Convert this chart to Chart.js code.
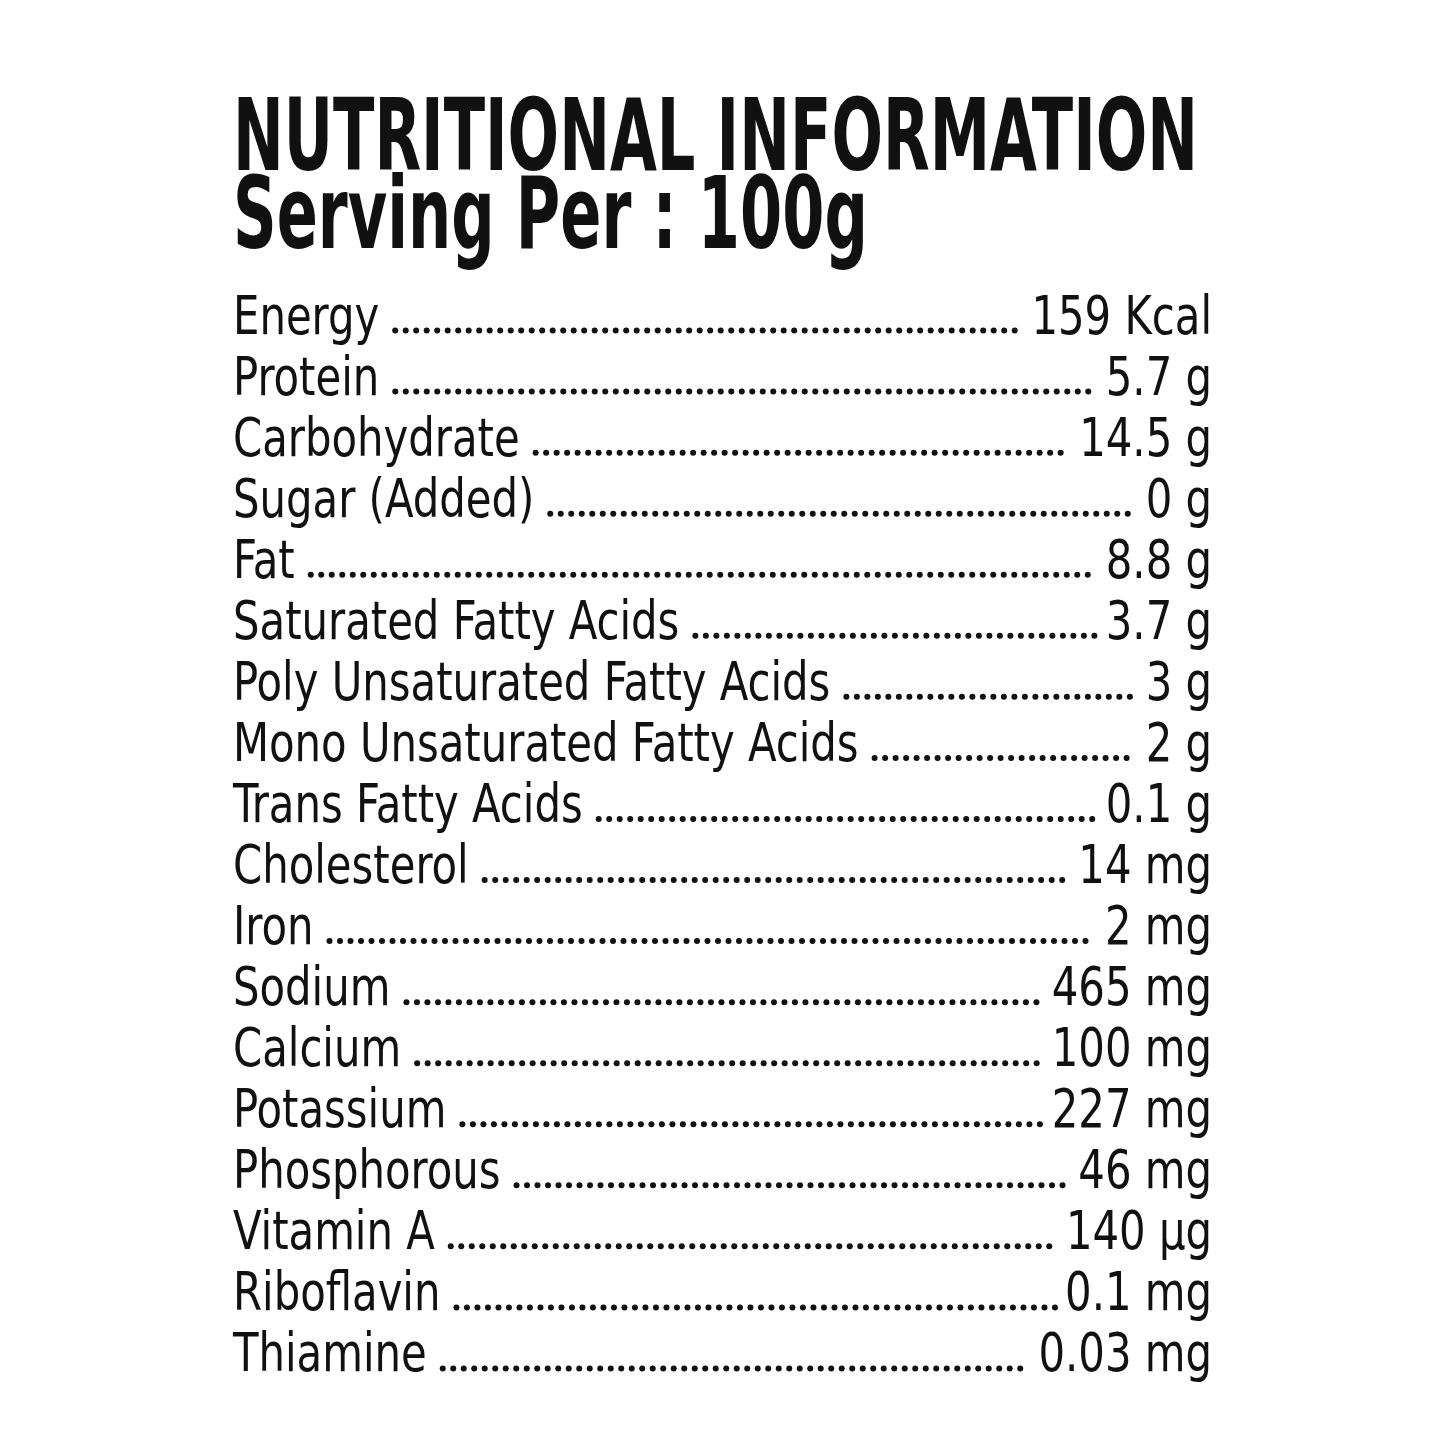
<!DOCTYPE html>
<html>
<head>
<meta charset="utf-8">
<script src="https://cdn.jsdelivr.net/npm/chart.js@4"></script>
<style>
  html, body { margin: 0; padding: 0; background: #fff; }
  #wrap { width: 1445px; height: 1445px; }
</style>
</head>
<body>
<div id="wrap"><canvas id="label"></canvas></div>
<script>
// Label data
const titleLines = ['NUTRITIONAL INFORMATION', 'Serving Per : 100g'];
const nutrients = ['Energy', 'Protein', 'Carbohydrate', 'Sugar (Added)', 'Fat',
    'Saturated Fatty Acids', 'Poly Unsaturated Fatty Acids', 'Mono Unsaturated Fatty Acids',
    'Trans Fatty Acids', 'Cholesterol', 'Iron', 'Sodium', 'Calcium', 'Potassium',
    'Phosphorous', 'Vitamin A', 'Riboflavin', 'Thiamine'];
const amounts = ['159 Kcal', '5.7 g', '14.5 g', '0 g', '8.8 g', '3.7 g', '3 g', '2 g',
    '0.1 g', '14 mg', '2 mg', '465 mg', '100 mg', '227 mg', '46 mg', '140 µg', '0.1 mg', '0.03 mg'];

const FONT = '"Liberation Sans Narrow", "DejaVu Sans Condensed", sans-serif';

// Draws title, names, dotted leaders and amounts on the category rows
const labelPlugin = {
    id: 'labelText',
    afterDraw: function(chart) {
        const ctx = chart.ctx;
        const area = chart.chartArea;
        const yScale = chart.scales.y;
        ctx.save();
        ctx.fillStyle = '#111';
        ctx.textBaseline = 'alphabetic';

        // Title, fitted to the label width
        ctx.font = 'bold 100px ' + FONT;
        const tw = ctx.measureText(titleLines[0]).width;
        const sx = 965 / tw;
        [170, 248].forEach(function(base, i) {
            ctx.save();
            ctx.translate(area.left, base);
            ctx.scale(sx, 1);
            ctx.fillText(titleLines[i], 0, 0);
            ctx.restore();
        });

        // Rows, narrowed horizontally to match the condensed face
        ctx.font = '54px ' + FONT;
        const rx = 0.86;
        nutrients.forEach(function(name, i) {
            const y = yScale.getPixelForValue(i) + 19;
            const nameW = ctx.measureText(name).width * rx;
            const valW = ctx.measureText(amounts[i]).width * rx;
            ctx.save();
            ctx.translate(area.left, y);
            ctx.scale(rx, 1);
            ctx.textAlign = 'left';
            ctx.fillText(name, 0, 0);
            ctx.restore();
            ctx.save();
            ctx.translate(area.right, y);
            ctx.scale(rx, 1);
            ctx.textAlign = 'right';
            ctx.fillText(amounts[i], 0, 0);
            ctx.restore();
            const nameEnd = area.left + nameW + 16;
            const valStart = area.right - valW - 10;
            for (let x = nameEnd; x < valStart; x += 10.5) {
                ctx.beginPath();
                ctx.arc(x, y - 3, 3, 0, Math.PI * 2);
                ctx.fill();
            }
        });
        ctx.restore();
    }
};

new Chart(document.getElementById('label').getContext('2d'), {
    type: 'bar',
    data: {
        labels: nutrients,
        datasets: [{ data: nutrients.map(function() { return 0; }), backgroundColor: 'rgba(0,0,0,0)' }]
    },
    options: {
        indexAxis: 'y',
        responsive: true,
        maintainAspectRatio: false,
        animation: false,
        layout: { padding: { top: 284, bottom: 62, left: 233, right: 233 } },
        plugins: { legend: { display: false }, tooltip: { enabled: false }, title: { display: false } },
        scales: {
            x: { display: false, min: 0, max: 1 },
            y: { display: false, offset: true }
        }
    },
    plugins: [labelPlugin]
});
</script>
</body>
</html>
